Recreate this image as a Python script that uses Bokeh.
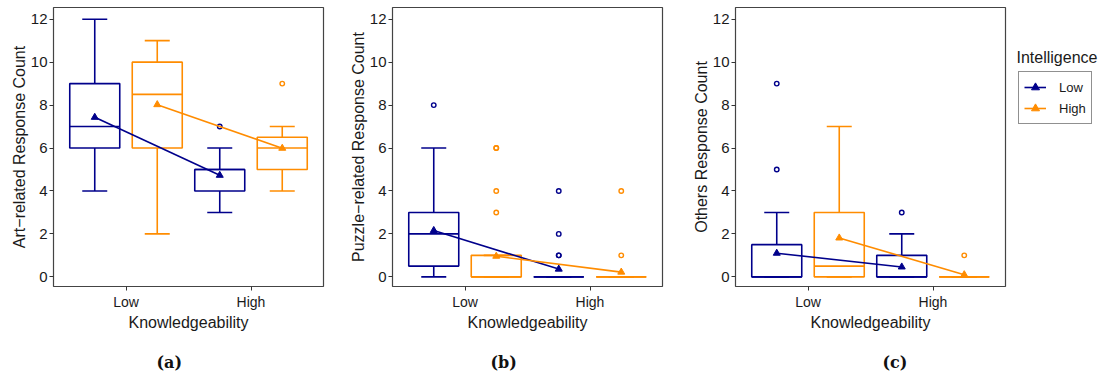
from bokeh.plotting import figure
from bokeh.models import ColumnDataSource, FixedTicker, Label, Legend, LegendItem, Range1d, Title
from bokeh.layouts import row
from bokeh.embed import file_html
from bokeh.resources import INLINE

knowledge = ["Low", "High"]
intelligence = ["Low", "High"]
# value order: (Knowl Low, Int Low), (Knowl Low, Int High), (Knowl High, Int Low), (Knowl High, Int High)
art_lower = [4, 2, 3, 4]
art_q1 = [6, 6, 4, 5]
art_median = [7, 8.5, 5, 6]
art_q3 = [9, 10, 5, 6.5]
art_upper = [12, 11, 6, 7]
art_mean = [7.43, 8.02, 4.73, 5.99]
art_outliers = [[], [], [7], [9]]

puzzle_lower = [0, 0, 0, 0]
puzzle_q1 = [0.5, 0, 0, 0]
puzzle_median = [2, 0, 0, 0]
puzzle_q3 = [3, 1, 0, 0]
puzzle_upper = [6, 1, 0, 0]
puzzle_mean = [2.16, 0.96, 0.36, 0.22]
puzzle_outliers = [[8], [3, 4, 6, 6], [1, 1, 2, 4], [1, 4]]

others_lower = [0, 0, 0, 0]
others_q1 = [0, 0, 0, 0]
others_median = [0, 0.5, 0, 0]
others_q3 = [1.5, 3, 1, 0]
others_upper = [3, 7, 2, 0]
others_mean = [1.1, 1.81, 0.46, 0.1]
others_outliers = [[5, 9], [], [3], [1]]

y_ticks = [0, 2, 4, 6, 8, 10, 12]

COLORS = {"Low": "#00008B", "High": "#FF8C00"}
FONT = "Liberation Sans"
TXT = "#1a1a1a"
LW = 1.6
TOP = 7
FH = 279
H = 375


def positions():
    xs, groups = [], []
    for ki, k in enumerate(knowledge):
        for ii, it in enumerate(intelligence):
            xs.append(ki + 1 + (ii - 0.5) * 0.5)
            groups.append(it)
    return xs, groups


def make_panel(stats, ylabel, bl, br, caption, cap_off):
    lower, q1, med, q3, upper, mean, outl = stats
    p = figure(frame_width=270, frame_height=FH, min_border_left=bl, min_border_right=br,
               min_border_top=TOP, min_border_bottom=H - TOP - FH,
               x_range=Range1d(0.42, 2.58), y_range=Range1d(-0.45, 12.545),
               output_backend="svg", toolbar_location=None)
    p.grid.visible = False
    p.outline_line_color = "#444444"
    p.outline_line_width = 1.2
    p.background_fill_color = None
    p.border_fill_color = None

    xs, groups = positions()
    cols = [COLORS[g] for g in groups]
    hw, cw = 0.2, 0.1
    src = ColumnDataSource(dict(
        x=xs, left=[x - hw for x in xs], right=[x + hw for x in xs],
        cl=[x - cw for x in xs], cr=[x + cw for x in xs],
        lower=lower, q1=q1, med=med, q3=q3, upper=upper, color=cols))
    p.quad(left="left", right="right", bottom="q1", top="q3", source=src,
           fill_color=None, line_color="color", line_width=LW)
    p.segment(x0="left", x1="right", y0="med", y1="med", source=src, line_color="color", line_width=LW)
    p.segment(x0="x", x1="x", y0="q3", y1="upper", source=src, line_color="color", line_width=LW)
    p.segment(x0="x", x1="x", y0="q1", y1="lower", source=src, line_color="color", line_width=LW)
    p.segment(x0="cl", x1="cr", y0="upper", y1="upper", source=src, line_color="color", line_width=LW)
    p.segment(x0="cl", x1="cr", y0="lower", y1="lower", source=src, line_color="color", line_width=LW)

    ox, oy, oc = [], [], []
    for i, vals in enumerate(outl):
        for v in vals:
            ox.append(xs[i]); oy.append(v); oc.append(cols[i])
    p.scatter(ox, oy, marker="circle", size=4.5, fill_color=None, line_color=oc, line_width=1.4)

    for it in intelligence:
        mx = [xs[i] for i in range(4) if groups[i] == it]
        my = [mean[i] for i in range(4) if groups[i] == it]
        p.line(mx, my, line_color=COLORS[it], line_width=1.6)
        p.scatter(mx, my, marker="triangle", size=7, fill_color=COLORS[it], line_color=COLORS[it])

    # axes
    p.xaxis.ticker = FixedTicker(ticks=[1, 2])
    p.xaxis.major_label_overrides = {1: "Low", 2: "High"}
    p.yaxis.ticker = FixedTicker(ticks=y_ticks)
    for ax in (p.xaxis[0], p.yaxis[0]):
        ax.axis_line_color = None
        ax.major_tick_in = 0
        ax.major_tick_out = 4
        ax.major_tick_line_color = "#333333"
        ax.minor_tick_line_color = None
        ax.major_label_text_font = FONT
        ax.major_label_text_color = TXT
        ax.axis_label_text_font = FONT
        ax.axis_label_text_font_style = "normal"
        ax.axis_label_text_color = TXT
        ax.axis_label_text_font_size = "16px"
    p.xaxis.major_label_text_font_size = "14px"
    p.yaxis.major_label_text_font_size = "15px"
    p.xaxis.axis_label = "Knowledgeability"
    p.yaxis.axis_label = ylabel
    p.xaxis.major_label_standoff = 3
    p.xaxis.axis_label_standoff = 1
    p.yaxis.major_label_standoff = 2
    p.yaxis.axis_label_standoff = 0

    p.add_layout(Title(text=caption, align="left", offset=cap_off, standoff=34,
                       text_font="DejaVu Serif", text_font_style="bold", text_font_size="16px",
                       text_color="#111111"), "below")
    return p


p1 = make_panel((art_lower, art_q1, art_median, art_q3, art_upper, art_mean, art_outliers),
                "Art\u2212related Response Count", 53, 21, "(a)", 103)
p2 = make_panel((puzzle_lower, puzzle_q1, puzzle_median, puzzle_q3, puzzle_upper, puzzle_mean, puzzle_outliers),
                "Puzzle\u2212related Response Count", 48, 22, "(b)", 98)
p3 = make_panel((others_lower, others_q1, others_median, others_q3, others_upper, others_mean, others_outliers),
                "Others Response Count", 51, 5, "(c)", 147)

# legend panel: same frame height as the panels; its data renderers lie outside the view,
# only the legend glyphs show
p4 = figure(frame_width=91, frame_height=FH, min_border_left=0, min_border_right=0,
            min_border_top=TOP, min_border_bottom=H - TOP - FH,
            x_range=Range1d(100, 101), y_range=Range1d(100, 101),
            x_axis_type=None, y_axis_type=None, output_backend="svg", toolbar_location=None)
p4.outline_line_color = None
p4.background_fill_color = None
p4.border_fill_color = None
xs4, groups4 = positions()
items = []
for it in intelligence:
    mx = [xs4[i] for i in range(4) if groups4[i] == it]
    my = [others_mean[i] for i in range(4) if groups4[i] == it]
    lr = p4.line(mx, my, line_color=COLORS[it], line_width=1.6)
    sr = p4.scatter(mx, my, marker="triangle", size=7, fill_color=COLORS[it], line_color=COLORS[it])
    items.append(LegendItem(label=it, renderers=[lr, sr]))
lg = Legend(items=items, location=(8, FH - 117), margin=0, padding=5, spacing=1,
            glyph_width=22, glyph_height=20, label_height=20, label_standoff=13,
            label_text_font=FONT, label_text_font_size="13px", label_text_color=TXT,
            border_line_color="#222222", border_line_width=1.2, background_fill_alpha=0)
p4.add_layout(lg, "center")
p4.add_layout(Label(x=6, y=FH - 50, x_units="screen", y_units="screen", text="Intelligence",
                    text_font=FONT, text_font_size="16px", text_align="left",
                    text_baseline="middle", text_color=TXT))

layout = row(p1, p2, p3, p4)
open("out.html", "w").write(file_html(layout, INLINE))
